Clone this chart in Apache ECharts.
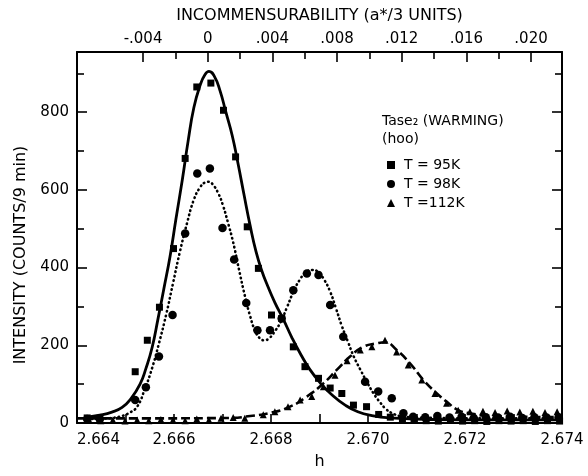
<!DOCTYPE html>
<html><head><meta charset="utf-8">
<script src="https://cdn.jsdelivr.net/npm/echarts@6/dist/echarts.min.js"></script>
<style>html,body{margin:0;padding:0;background:#fff}#c{width:588px;height:476px}</style>
</head><body><div id="c"></div>
<script>
// ---- tick labels ----
const hTicks = [2.664, 2.665, 2.666, 2.667, 2.668, 2.669, 2.670, 2.671, 2.672, 2.673, 2.674];
const hLabels = [2.664, 2.666, 2.668, 2.670, 2.672, 2.674];
const topLabels = [-0.004, 0, 0.004, 0.008, 0.012, 0.016, 0.020];
const topMinor = [-0.002, 0.002, 0.006, 0.010, 0.014, 0.018];
const yMajor = [0, 200, 400, 600, 800];
const yMinor = [100, 300, 500, 700, 900];
const H0 = 2.666695; // h at zero incommensurability

// ---- measured points [h, counts] ----
const pts95 = [[2.66421,13],[2.66447,12],[2.66520,132],[2.66545,213],[2.66570,298],[2.66599,449],[2.66623,681],[2.66647,865],[2.66676,875],[2.66702,805],[2.66727,685],[2.66751,505],[2.66774,398],[2.66801,278],[2.66822,269],[2.66846,196],[2.66870,145],[2.66898,115],[2.66922,90],[2.66946,76],[2.66970,46],[2.66997,42],[2.67022,22],[2.67046,15],[2.67071,10],[2.67095,8],[2.67120,6],[2.67145,5],[2.67170,7],[2.67195,5],[2.67220,6],[2.67245,4],[2.67270,6],[2.67295,5],[2.67320,6],[2.67345,4],[2.67370,6],[2.67395,5]];
const pts98 = [[2.66421,10],[2.66447,10],[2.66520,59],[2.66542,92],[2.66569,171],[2.66597,278],[2.66623,488],[2.66648,642],[2.66674,655],[2.66700,502],[2.66724,421],[2.66749,309],[2.66772,239],[2.66798,239],[2.66822,269],[2.66846,342],[2.66874,385],[2.66898,381],[2.66922,304],[2.66949,222],[2.66994,106],[2.67021,81],[2.67049,64],[2.67073,25],[2.67093,16],[2.67118,15],[2.67143,18],[2.67168,14],[2.67193,16],[2.67218,13],[2.67243,15],[2.67268,14],[2.67293,16],[2.67318,13],[2.67343,15],[2.67368,14],[2.67393,15]];
const pts112 = [[2.66425,8],[2.66449,6],[2.66474,8],[2.66499,5],[2.66524,8],[2.66548,6],[2.66573,9],[2.66598,8],[2.66623,6],[2.66647,10],[2.66672,8],[2.66697,12],[2.66722,14],[2.66746,12],[2.66784,21],[2.66808,29],[2.66835,42],[2.66860,59],[2.66884,68],[2.66908,93],[2.66932,123],[2.66957,160],[2.66984,188],[2.67008,196],[2.67035,213],[2.67059,183],[2.67083,149],[2.67111,111],[2.67138,76],[2.67162,51],[2.67186,33],[2.67210,29],[2.67237,30],[2.67262,27],[2.67287,31],[2.67313,28],[2.67340,30],[2.67365,27],[2.67390,29]];

// ---- fitted curves [h, counts] ----
const fit95 = [[2.66421,15],[2.66447,20],[2.66472,28],[2.66493,40],[2.66511,62],[2.66530,100],[2.66542,140],[2.66555,195],[2.66567,268],[2.66579,345],[2.66592,430],[2.66604,525],[2.66617,625],[2.66629,725],[2.66641,812],[2.66654,870],[2.66664,897],[2.66672,905],[2.66683,893],[2.66695,855],[2.66707,800],[2.66720,740],[2.66732,668],[2.66744,590],[2.66757,508],[2.66769,442],[2.66781,392],[2.66794,350],[2.66808,310],[2.66825,268],[2.66843,220],[2.66862,175],[2.66880,138],[2.66901,104],[2.66926,72],[2.66953,46],[2.66979,29],[2.67008,19],[2.67045,13],[2.67128,9],[2.67272,8],[2.67400,8]];
const fit98 = [[2.66421,10],[2.66447,11],[2.66472,13],[2.66493,18],[2.66509,27],[2.66524,42],[2.66540,88],[2.66555,142],[2.66569,205],[2.66584,280],[2.66598,360],[2.66612,440],[2.66627,515],[2.66641,575],[2.66654,607],[2.66664,619],[2.66672,621],[2.66680,614],[2.66691,592],[2.66701,560],[2.66711,517],[2.66722,465],[2.66734,395],[2.66746,328],[2.66757,275],[2.66767,238],[2.66777,218],[2.66786,213],[2.66796,218],[2.66808,236],[2.66821,263],[2.66833,298],[2.66847,340],[2.66860,370],[2.66872,388],[2.66885,394],[2.66897,389],[2.66909,370],[2.66922,338],[2.66934,295],[2.66946,250],[2.66959,208],[2.66971,170],[2.66984,138],[2.66998,105],[2.67012,75],[2.67025,53],[2.67037,36],[2.67052,24],[2.67070,17],[2.67107,14],[2.67272,12],[2.67400,12]];
const fit112 = [[2.66400,12],[2.66551,12],[2.66715,13],[2.66757,18],[2.66798,26],[2.66839,42],[2.66874,68],[2.66908,102],[2.66935,136],[2.66963,171],[2.66990,196],[2.67018,205],[2.67035,208],[2.67059,188],[2.67087,153],[2.67114,111],[2.67142,76],[2.67162,55],[2.67186,33],[2.67210,25],[2.67252,18],[2.67400,15]];

const FONT = 'DejaVu Sans';
const BLACK = '#000';
const lineS = {color: BLACK, width: 2};
const tickS = {color: BLACK, width: 1.6};
const dMin = 3 * (2.664 - H0), dMax = 3 * (2.674 - H0);
const fmtTop = v => v === 0 ? '0' : (v < 0 ? '-' : '') + Math.abs(v).toFixed(3).replace(/^0/, '');

const chart = echarts.init(document.getElementById('c'), null, {renderer: 'canvas'});
chart.setOption({
  animation: false,
  backgroundColor: '#fff',
  grid: {left: 77, right: 26, top: 52, bottom: 53},
  xAxis: [
    {type: 'value', position: 'bottom', min: 2.664, max: 2.674,
     axisLine: {show: true, onZero: false, lineStyle: lineS},
     axisTick: {show: true, inside: true, length: 9, lineStyle: tickS, customValues: hTicks},
     axisLabel: {customValues: hLabels, margin: 10, color: BLACK, fontFamily: FONT, fontSize: 15,
                 formatter: v => v.toFixed(3), alignMinLabel: 'left'},
     splitLine: {show: false},
     name: 'h', nameLocation: 'middle', nameGap: 31,
     nameTextStyle: {color: BLACK, fontFamily: FONT, fontSize: 16}},
    {type: 'value', position: 'top', min: dMin, max: dMax,
     axisLine: {show: true, onZero: false, lineStyle: lineS},
     axisTick: {show: true, inside: true, length: 10, lineStyle: tickS, customValues: topLabels},
     axisLabel: {customValues: topLabels, margin: 5, color: BLACK, fontFamily: FONT, fontSize: 15, formatter: fmtTop},
     splitLine: {show: false},
     name: 'INCOMMENSURABILITY (a*/3 UNITS)', nameLocation: 'middle', nameGap: 28,
     nameTextStyle: {color: BLACK, fontFamily: FONT, fontSize: 16}},
    {type: 'value', position: 'top', min: dMin, max: dMax,
     axisLine: {show: false, onZero: false},
     axisTick: {show: true, inside: true, length: 7, lineStyle: tickS, customValues: topMinor},
     axisLabel: {show: false}, splitLine: {show: false}}
  ],
  yAxis: [
    {type: 'value', position: 'left', min: 0, max: 955,
     axisLine: {show: true, onZero: false, lineStyle: lineS},
     axisTick: {show: true, inside: true, length: 10, lineStyle: tickS, customValues: yMajor},
     axisLabel: {customValues: yMajor, margin: 8, color: BLACK, fontFamily: FONT, fontSize: 15},
     splitLine: {show: false}},
    {type: 'value', position: 'left', min: 0, max: 955,
     axisLine: {show: false, onZero: false},
     axisTick: {show: true, inside: true, length: 7, lineStyle: tickS, customValues: yMinor},
     axisLabel: {show: false}, splitLine: {show: false}},
    {type: 'value', position: 'right', min: 0, max: 955,
     axisLine: {show: true, onZero: false, lineStyle: lineS},
     axisTick: {show: true, inside: true, length: 10, lineStyle: tickS, customValues: yMajor},
     axisLabel: {show: false}, splitLine: {show: false}},
    {type: 'value', position: 'right', min: 0, max: 955,
     axisLine: {show: false, onZero: false},
     axisTick: {show: true, inside: true, length: 7, lineStyle: tickS, customValues: yMinor},
     axisLabel: {show: false}, splitLine: {show: false}}
  ],
  legend: {
    orient: 'vertical', left: 382, top: 153, itemWidth: 8, itemHeight: 8, itemGap: 5,
    selectedMode: false,
    data: ['T = 95K', 'T = 98K', 'T =112K'],
    textStyle: {color: BLACK, fontFamily: FONT, fontSize: 14, lineHeight: 14, padding: [0, 0, 0, 4]}
  },
  graphic: [
    {type: 'text', left: 382, top: 114, style: {text: 'Tase₂ (WARMING)', fill: BLACK, font: '14px "DejaVu Sans"'}},
    {type: 'text', left: 382, top: 132, style: {text: '(hoo)', fill: BLACK, font: '14px "DejaVu Sans"'}},
    {type: 'text', x: 21, y: 255, rotation: Math.PI / 2,
     style: {text: 'INTENSITY (COUNTS/9 min)', fill: BLACK, font: '16px "DejaVu Sans"', align: 'center', verticalAlign: 'middle'}}
  ],
  series: [
    {type: 'line', data: fit95, smooth: 0.5, showSymbol: false, z: 2,
     lineStyle: {color: BLACK, width: 2.8, type: 'solid', join: 'round'}},
    {type: 'line', data: fit98, smooth: 0.5, showSymbol: false, z: 2,
     lineStyle: {color: BLACK, width: 2.6, type: [0.5, 4], cap: 'round'}},
    {type: 'line', data: fit112, smooth: 0.5, showSymbol: false, z: 2,
     lineStyle: {color: BLACK, width: 2.6, type: [9, 4]}},
    {type: 'scatter', name: 'T = 95K', data: pts95, symbol: 'rect', symbolSize: 7, z: 3, itemStyle: {color: BLACK, opacity: 1}},
    {type: 'scatter', name: 'T = 98K', data: pts98, symbol: 'circle', symbolSize: 8.5, z: 3, itemStyle: {color: BLACK, opacity: 1}},
    {type: 'scatter', name: 'T =112K', data: pts112, symbol: 'triangle', symbolSize: 7, z: 3, itemStyle: {color: BLACK, opacity: 1}}
  ]
});
</script></body></html>
